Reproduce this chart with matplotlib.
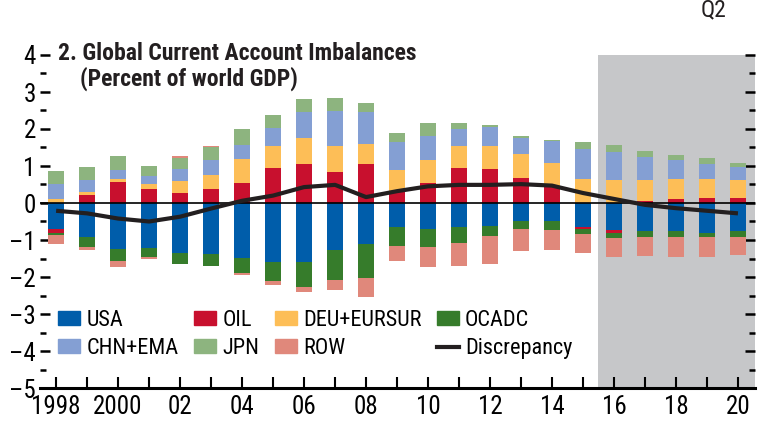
import numpy as np
import matplotlib
matplotlib.use('Agg')
import matplotlib.pyplot as plt
from matplotlib import font_manager
from matplotlib.lines import Line2D
from matplotlib.patches import Patch

# use a narrow face if one is on the machine, the original is set in a condensed font
names = {f.name for f in font_manager.fontManager.ttflist}
stretch = 'normal'
family = 'Liberation Sans'
for cand in ['Liberation Sans Narrow', 'Roboto Condensed', 'Open Sans Condensed', 'DejaVu Sans Condensed']:
    if cand in names:
        family = cand
        break
else:
    if any(f.name == 'DejaVu Sans' and f.stretch == 'condensed' for f in font_manager.fontManager.ttflist):
        family = 'DejaVu Sans'
        stretch = 'condensed'
plt.rcParams['font.family'] = [family, 'DejaVu Sans']
plt.rcParams['font.stretch'] = stretch

years = list(range(1998, 2021))
xlabels = ['1998', '', '2000', '', '02', '', '04', '', '06', '', '08', '',
           '10', '', '12', '', '14', '', '16', '', '18', '', '20']

usa = [-0.70, -0.91, -1.23, -1.21, -1.34, -1.37, -1.48, -1.59, -1.59, -1.26, -1.10, -0.64,
       -0.69, -0.64, -0.61, -0.50, -0.50, -0.64, -0.72, -0.77, -0.77, -0.80, -0.77]
oil = [-0.11, 0.22, 0.57, 0.38, 0.28, 0.38, 0.55, 0.95, 1.06, 0.85, 1.06, 0.32,
       0.55, 0.95, 0.93, 0.68, 0.47, -0.05, -0.08, 0.06, 0.12, 0.14, 0.14]
deu = [0.12, 0.08, 0.08, 0.13, 0.32, 0.38, 0.63, 0.59, 0.70, 0.68, 0.54, 0.56,
       0.62, 0.59, 0.62, 0.65, 0.62, 0.66, 0.63, 0.57, 0.54, 0.51, 0.49]
ocadc = [-0.05, -0.27, -0.35, -0.24, -0.30, -0.32, -0.42, -0.51, -0.68, -0.81, -0.92, -0.51,
         -0.49, -0.43, -0.27, -0.19, -0.22, -0.16, -0.14, -0.14, -0.14, -0.11, -0.14]
chn = [0.40, 0.32, 0.25, 0.22, 0.32, 0.41, 0.39, 0.50, 0.70, 0.95, 0.86, 0.76,
       0.65, 0.46, 0.50, 0.43, 0.59, 0.81, 0.76, 0.62, 0.49, 0.41, 0.33]
jpn = [0.35, 0.35, 0.37, 0.26, 0.30, 0.34, 0.43, 0.34, 0.35, 0.35, 0.24, 0.24,
       0.35, 0.16, 0.07, 0.05, 0.03, 0.19, 0.19, 0.16, 0.16, 0.16, 0.13]
row = [-0.24, -0.08, -0.14, -0.05, 0.04, 0.03, -0.04, -0.11, -0.14, -0.27, -0.51, -0.43,
       -0.54, -0.62, -0.76, -0.62, -0.54, -0.49, -0.51, -0.51, -0.54, -0.54, -0.49]
discrepancy = [-0.21, -0.28, -0.42, -0.50, -0.37, -0.15, 0.06, 0.20, 0.43, 0.49, 0.16, 0.32,
               0.45, 0.49, 0.49, 0.51, 0.47, 0.27, 0.11, -0.05, -0.14, -0.21, -0.28]

series = [
    ('USA', usa, '#005DAA'),
    ('OIL', oil, '#C8102E'),
    ('DEU+EURSUR', deu, '#FDBE57'),
    ('OCADC', ocadc, '#367C2B'),
    ('CHN+EMA', chn, '#849FD3'),
    ('JPN', jpn, '#8DB47F'),
    ('ROW', row, '#E0887B'),
]

narrow = family != 'Liberation Sans'
tick_fs = 18 if narrow else 15
title_fs = 17 if narrow else 14.5
leg_fs = 16 if narrow else 13.5
colsp = 0.7 if narrow else 0.6

fig = plt.figure(figsize=(7.74, 4.36), dpi=100)
ax = fig.add_axes([40 / 774, 48 / 436, 715 / 774, 333 / 436])

ax.axvspan(2015.5, 2020.6, color='#C6C7C9', zorder=0, lw=0)

pos = np.zeros(len(years))
neg = np.zeros(len(years))
handles = {}
for name, vals, col in series:
    v = np.array(vals)
    bottom = np.where(v >= 0, pos, neg)
    ax.bar(years, v, bottom=bottom, width=0.52, color=col, lw=0, zorder=2)
    pos += np.where(v >= 0, v, 0)
    neg += np.where(v < 0, v, 0)
    handles[name] = Patch(color=col, label=name)

ax.axhline(0, color='black', lw=1.2, zorder=3)
ax.plot(years, discrepancy, color='#231F20', lw=3, zorder=4, solid_capstyle='butt')
handles['Discrepancy'] = Line2D([], [], color='#231F20', lw=3, label='Discrepancy')

ax.set_xlim(1997.48, 2020.55)
ax.set_ylim(-5, 4)
for s in ['left', 'right', 'top']:
    ax.spines[s].set_visible(False)
ax.spines['bottom'].set_linewidth(2.2)

ax.set_yticks(range(-5, 5))
ax.set_yticks(np.arange(-4.5, 4, 1), minor=True)
ax.set_yticklabels([str(i).replace('-', '\u2013') for i in range(-5, 5)])
ax.tick_params(axis='y', which='major', direction='in', length=7, width=1.8,
               labelsize=tick_fs, pad=3, left=True, right=True)
ax.tick_params(axis='y', which='minor', direction='in', length=4, width=1.8,
               left=True, right=True)
ax.set_xticks(years)
ax.set_xticklabels(xlabels)
ax.tick_params(axis='x', direction='in', length=8, width=1.5, labelsize=tick_fs, pad=5)

order = ['USA', 'CHN+EMA', 'OIL', 'JPN', 'DEU+EURSUR', 'ROW', 'OCADC', 'Discrepancy']
ax.legend([handles[k] for k in order], order, ncol=4, loc='upper left',
          bbox_to_anchor=(58 / 774, 1 - 310 / 436), bbox_transform=fig.transFigure,
          frameon=False, fontsize=leg_fs, handlelength=1.0, handleheight=0.57,
          handletextpad=0.27, columnspacing=colsp, labelspacing=0.32,
          borderpad=0, borderaxespad=0)

fig.text(58 / 774, 1 - 53 / 436, '2. Global Current Account Imbalances',
         fontsize=title_fs, fontweight='bold', va='center', ha='left', color='#231F20')
fig.text(80 / 774, 1 - 79 / 436, '(Percent of world GDP)',
         fontsize=title_fs, fontweight='bold', va='center', ha='left', color='#231F20')
fig.text(714 / 774, 1 - 10 / 436, 'Q2', fontsize=tick_fs - 1, va='center', ha='center',
         color='#231F20')

fig.savefig('out.png', dpi=100)
